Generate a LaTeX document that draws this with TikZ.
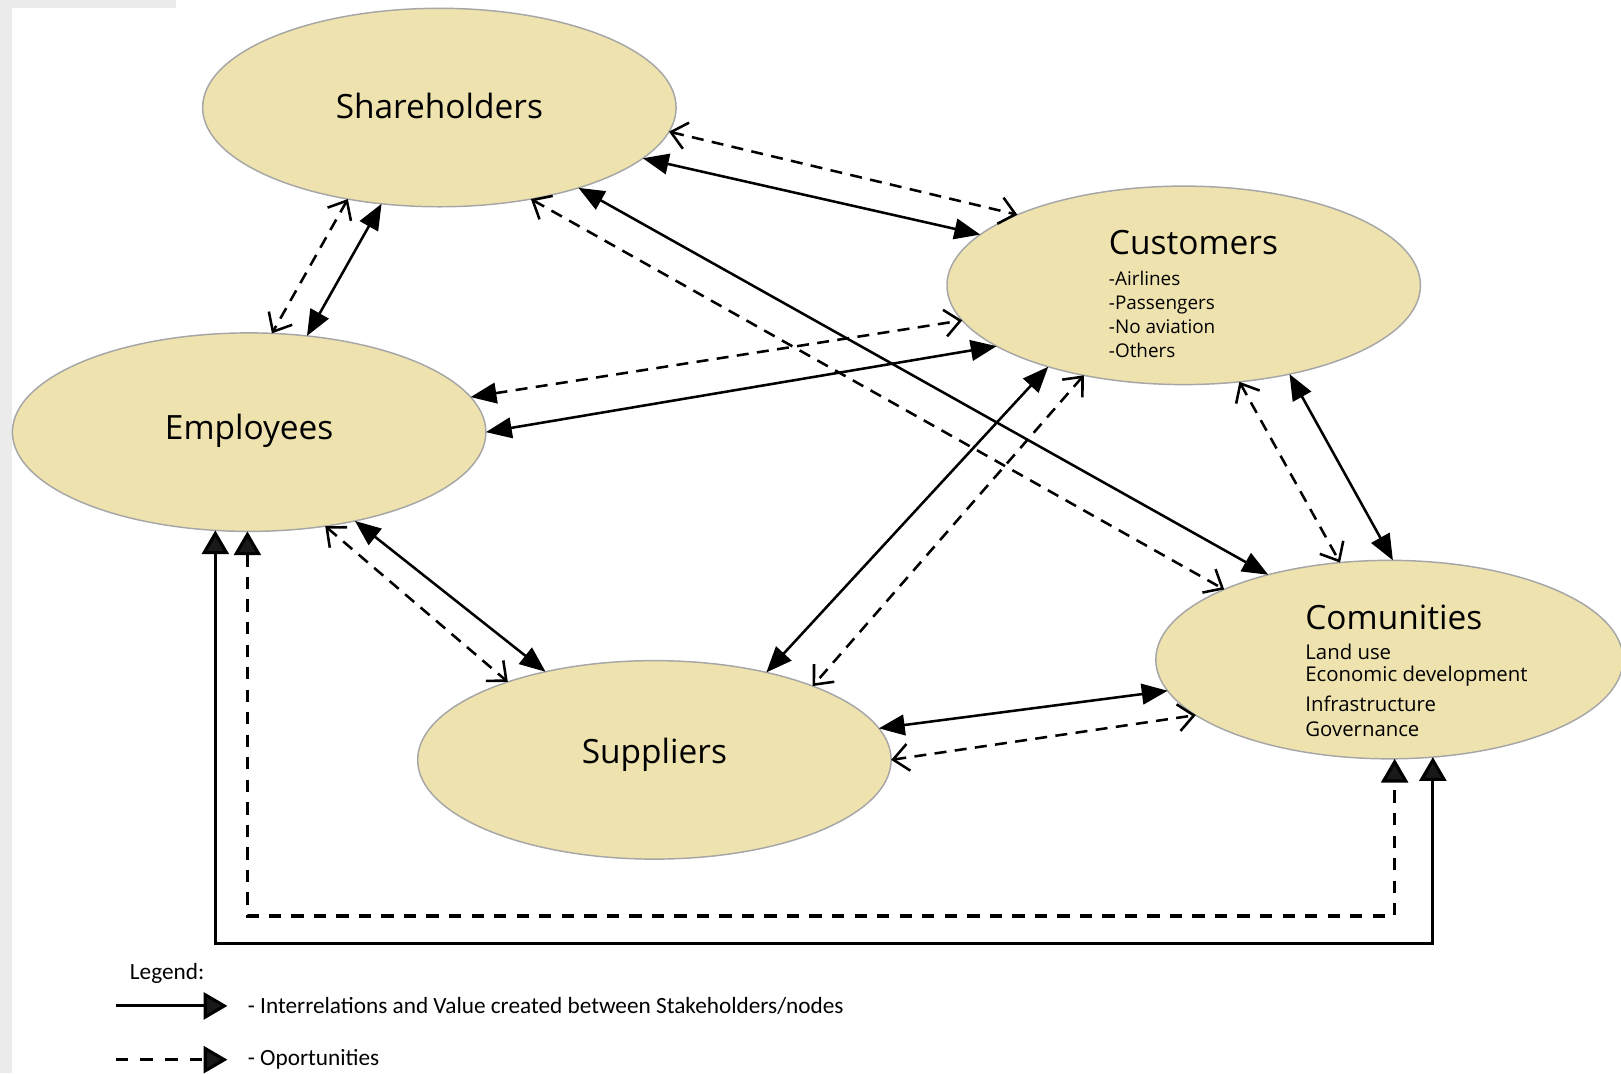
\documentclass[tikz,border=0pt]{standalone}
\usepackage{fontspec}
\setmainfont{Carlito}
\newfontfamily\labelfont{Open Sans}
\usetikzlibrary{arrows.meta,shapes.geometric,positioning}
\definecolor{stakefill}{RGB}{238,226,174}

\begin{document}
\begin{tikzpicture}[
    stake/.style={ellipse, draw=black!35, line width=0.4pt, fill=stakefill,
      inner sep=0pt, outer sep=0pt, minimum width=4.58cm, minimum height=1.92cm,
      font=\labelfont\fontsize{9.2}{11}\selectfont, text height=1.6ex, text depth=.3ex},
    stakelabel/.style={font=\labelfont\fontsize{9.2}{11}\selectfont, inner sep=0pt},
    items/.style={align=left, inner sep=0pt},
    valueline/.style={line width=0.7pt,
      {Triangle[length=2.5mm,width=2mm]}-{Triangle[length=2.5mm,width=2mm]}},
    oportline/.style={line width=0.7pt, dash pattern=on 3.3pt off 2.3pt,
      {Straight Barb[length=1.5mm,width=2.6mm]}-{Straight Barb[length=1.5mm,width=2.6mm]}},
    busline/.style={line width=0.85pt,
      {Triangle[length=2.3mm,width=2.6mm,fill=black!90]}-{Triangle[length=2.3mm,width=2.6mm,fill=black!90]}},
    legendline/.style={line width=0.85pt, -{Triangle[length=2.3mm,width=2.6mm,fill=black!90]}}
  ]
  \useasboundingbox (0,0) rectangle (15.68,-10.38);
  \fill[black!8] (0,0) rectangle (0.12,-10.38);
  \fill[black!8] (0,0) rectangle (1.7,-0.08);

  % stakeholders
  \node[stake] (sh) at (4.25,-1.04) {Shareholders};
  \node[stake] (cu) at (11.45,-2.76) {};
  \node[stake] (em) at (2.41,-4.18) {\raisebox{1pt}{Employees}};
  \node[stake] (su) at (6.33,-7.35) {\raisebox{2.2pt}{Suppliers}};
  \node[stake, minimum width=4.52cm] (co) at (13.44,-6.38) {};

  \node[stakelabel, anchor=base west] (cutitle) at (10.72,-2.466) {Customers};
  \node[items, anchor=north west, font=\labelfont\fontsize{5.2}{6.6}\selectfont] (cuitems) at (10.72,-2.612)
    {-Airlines\\-Passengers\\-No aviation\\-Others};
  \node[stakelabel, anchor=base west] (cotitle) at (12.62,-6.086) {Comunities};
  \node[items, anchor=north west, font=\labelfont\fontsize{5.6}{6}\selectfont] (coitems) at (12.62,-6.223)
    {Land use\\Economic development\\[2.4pt]Infrastructure\\[0.8pt]Governance};

  % relations
  \draw[oportline] (sh.-6) -- (cu.157);
  \draw[valueline] (sh.-14) -- (cu.166);
  \draw[oportline] (sh.-135) -- (em.77);
  \draw[valueline] (sh.-121) -- (em.59);
  \draw[valueline] (sh.-30) -- (co.145);
  \draw[oportline] (sh.-45) -- (co.157);
  \draw[oportline, {Triangle[length=2.5mm,width=2mm]}-{Straight Barb[length=1.5mm,width=2.6mm]}] (em.9) -- (cu.189);
  \draw[valueline] (em.0) -- (cu.198);
  \draw[oportline] (em.-51) -- (su.152);
  \draw[valueline] (em.-40) -- (su.141);
  \draw[valueline] (cu.-149) -- (su.38);
  \draw[oportline] (cu.-138) -- (su.25);
  \draw[oportline] (cu.-60) -- (co.117);
  \draw[valueline] (cu.-40) -- (co.88);
  \draw[valueline] (su.8) -- (co.-172);
  \draw[oportline] (su.0) -- (co.-164);

  \coordinate (valuebus) at (0,-9.13);
  \coordinate (oportbus) at (0,-8.86);
  \draw[busline] (em.-109) -- (em.-109 |- valuebus) -- (co.-66 |- valuebus) -- (co.-66);
  \draw[busline, dash pattern=on 3.4pt off 2.8pt] (em.-91) -- (em.-91 |- oportbus) -- (co.-87 |- oportbus) -- (co.-87);

  % legend
  \node[anchor=base west, inner sep=0pt, font=\fontsize{6.4}{7.5}\selectfont] (legend) at (1.25,-9.47) {Legend:};
  \coordinate (valuefrom) at (1.12,-9.73);
  \coordinate (valueto) at (2.2,-9.73);
  \coordinate (oportfrom) at (1.12,-10.25);
  \coordinate (oportto) at (2.2,-10.25);
  \draw[legendline] (valuefrom) -- (valueto);
  \draw[legendline, dash pattern=on 3.4pt off 3.4pt] (oportfrom) -- (oportto);
  \node[anchor=west, inner sep=0pt, font=\fontsize{6.4}{7.5}\selectfont] (valuetext) at (2.39,-9.73)
    {- Interrelations and Value created between Stakeholders/nodes};
  \node[anchor=west, inner sep=0pt, font=\fontsize{6.4}{7.5}\selectfont] (oporttext) at (2.39,-10.25)
    {- Oportunities};
\end{tikzpicture}
\end{document}
